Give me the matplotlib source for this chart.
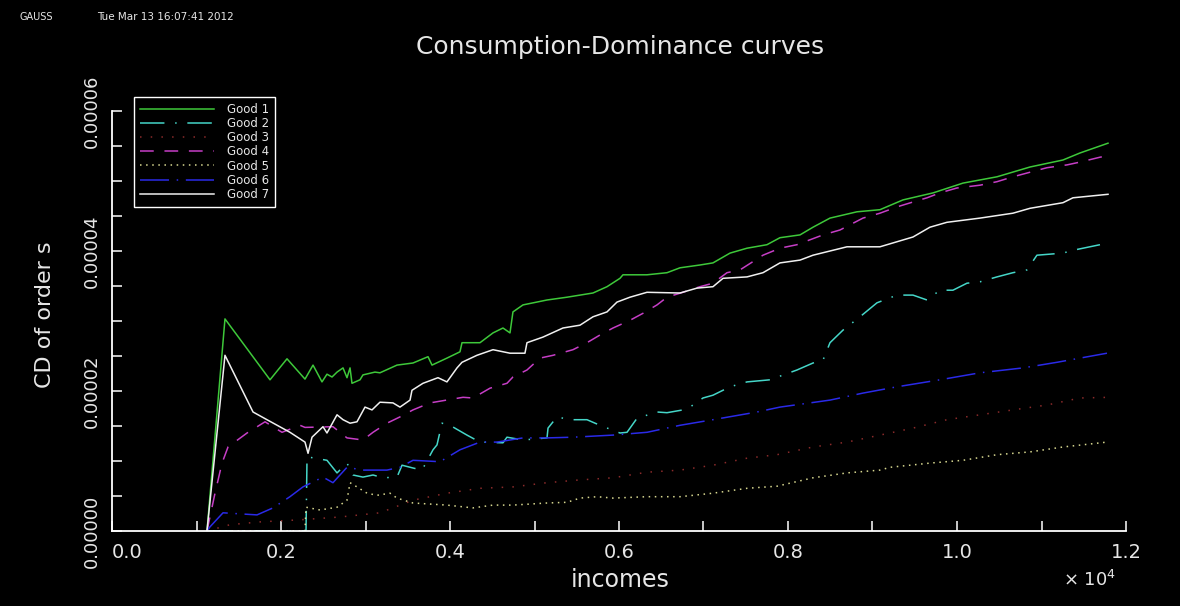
import matplotlib
matplotlib.use("Agg")
import matplotlib.pyplot as plt
from matplotlib.ticker import FixedLocator

# ---------------- data (incomes, CD values in units of 1e-5) ----------------
labels = ["Good 1", "Good 2", "Good 3", "Good 4", "Good 5", "Good 6", "Good 7"]

g1_x = [1124, 1337, 1870, 2071, 2284, 2379, 2485, 2544, 2604, 2663, 2734, 2781, 2817, 2840,
        2935, 2970, 3112, 3171, 3373, 3562, 3740, 3787, 3964, 4118, 4142, 4355, 4509, 4627,
        4710, 4745, 4864, 5148, 5385, 5692, 5858, 6012, 6047, 6331, 6568, 6722, 6958, 7112,
        7314, 7515, 7751, 7905, 8142, 8296, 8497, 8816, 9088, 9361, 9716, 10071, 10473,
        10864, 11254, 11455, 11787]
g1_y = [0, 3.03, 2.16, 2.46, 2.17, 2.37, 2.13, 2.24, 2.20, 2.27, 2.33, 2.19, 2.33, 2.11,
        2.16, 2.23, 2.27, 2.26, 2.37, 2.40, 2.49, 2.37, 2.47, 2.56, 2.69, 2.69, 2.83, 2.90,
        2.83, 3.13, 3.23, 3.30, 3.34, 3.40, 3.49, 3.61, 3.66, 3.66, 3.69, 3.76, 3.80, 3.83,
        3.97, 4.04, 4.09, 4.19, 4.23, 4.34, 4.47, 4.56, 4.59, 4.73, 4.83, 4.97, 5.06,
        5.20, 5.30, 5.40, 5.54]

g2_x = [1124, 2296, 2308, 2544, 2663, 2781, 2852, 2970, 3089, 3207,
        3373, 3432, 3562, 3669, 3799, 3846, 3905, 4000, 4201, 4355,
        4627, 4674, 4864, 5148, 5160, 5266, 5420, 5621, 5775, 6012,
        6095, 6213, 6450, 6568, 6757, 6840, 6994, 7112, 7314, 7515,
        7787, 8106, 8296, 8414, 8497, 8651, 8852, 9053, 9290, 9479,
        9645, 9798, 9952, 10118, 10272, 10473, 10662, 10828, 10946, 11254,
        11372, 11692]
g2_y = [0, 0, 1.06, 1.01, 0.83, 0.97, 0.80, 0.77, 0.80, 0.76,
        0.77, 0.94, 0.90, 0.87, 1.16, 1.23, 1.54, 1.51, 1.37, 1.27,
        1.26, 1.34, 1.30, 1.33, 1.47, 1.63, 1.59, 1.59, 1.51, 1.40,
        1.41, 1.61, 1.70, 1.69, 1.73, 1.77, 1.90, 1.94, 2.06, 2.13,
        2.16, 2.30, 2.40, 2.44, 2.69, 2.87, 3.06, 3.26, 3.37, 3.37,
        3.30, 3.44, 3.44, 3.54, 3.56, 3.63, 3.69, 3.73, 3.94, 3.97,
        4.01, 4.09]

g3_x = [1124, 1396, 1751, 2225, 2698, 3171, 3562, 3964, 4355, 4745,
        5148, 5538, 5929, 6331, 6722, 7112, 7515, 7870, 8296, 8698,
        9088, 9479, 9881, 10272, 10662, 11065, 11455, 11811]
g3_y = [0, 0.09, 0.13, 0.16, 0.20, 0.26, 0.44, 0.54, 0.61, 0.63,
        0.69, 0.73, 0.76, 0.84, 0.87, 0.94, 1.04, 1.09, 1.20, 1.27,
        1.37, 1.47, 1.59, 1.66, 1.73, 1.80, 1.90, 1.91]

g4_x = [1124, 1219, 1302, 1373, 1598, 1811, 2012, 2225, 2284, 2615,
        2781, 2970, 3089, 3254, 3408, 3562, 3763, 4154, 4272, 4473,
        4674, 4745, 4911, 5065, 5219, 5455, 5621, 5775, 5929, 6130,
        6284, 6450, 6568, 6757, 6958, 7112, 7278, 7432, 7704, 7905,
        8106, 8414, 8615, 8887, 9088, 9290, 9479, 9645, 9798, 9999,
        10272, 10473, 10662, 11065, 11301, 11455, 11692, 11787]
g4_y = [0, 0.54, 0.97, 1.20, 1.40, 1.56, 1.41, 1.51, 1.48, 1.49,
        1.33, 1.30, 1.41, 1.54, 1.63, 1.73, 1.83, 1.91, 1.90, 2.04,
        2.11, 2.20, 2.30, 2.47, 2.51, 2.59, 2.69, 2.80, 2.90, 3.01,
        3.11, 3.23, 3.34, 3.41, 3.49, 3.54, 3.69, 3.73, 3.94, 4.04,
        4.09, 4.23, 4.30, 4.47, 4.54, 4.63, 4.70, 4.76, 4.83, 4.90,
        4.94, 4.99, 5.06, 5.19, 5.23, 5.27, 5.34, 5.36]

g5_x = [1124, 2284, 2296, 2461, 2663, 2781, 2817, 2899, 3018, 3136,
        3290, 3373, 3562, 3964, 4272, 4509, 4745, 5148, 5385, 5538,
        5740, 5929, 6331, 6722, 7112, 7515, 7870, 8296, 8698, 9088,
        9207, 9680, 10071, 10473, 10864, 11254, 11775]
g5_y = [0, 0, 0.34, 0.30, 0.34, 0.44, 0.69, 0.63, 0.54, 0.51,
        0.54, 0.47, 0.40, 0.37, 0.33, 0.37, 0.37, 0.40, 0.41, 0.47,
        0.49, 0.47, 0.49, 0.49, 0.54, 0.61, 0.64, 0.76, 0.83, 0.87,
        0.91, 0.97, 1.01, 1.09, 1.13, 1.20, 1.27]

g6_x = [1124, 1160, 1314, 1716, 1905, 2106, 2260, 2497, 2615, 2781,
        2970, 3254, 3408, 3562, 3882, 4118, 4355, 4556, 4864, 5148,
        5455, 5929, 6331, 6722, 7112, 7633, 7905, 8497, 8887, 9290,
        9798, 10272, 10781, 11183, 11775]
g6_y = [0, 0.06, 0.26, 0.23, 0.33, 0.49, 0.63, 0.77, 0.69, 0.91,
        0.87, 0.87, 0.91, 1.01, 0.99, 1.16, 1.27, 1.27, 1.33, 1.33,
        1.34, 1.37, 1.41, 1.51, 1.59, 1.70, 1.77, 1.87, 1.97, 2.06,
        2.16, 2.26, 2.33, 2.41, 2.54]

g7_x = [1124, 1337, 1669, 1834, 2106, 2284, 2320, 2367, 2497, 2544,
        2663, 2734, 2817, 2899, 2994, 3077, 3171, 3325, 3408, 3527,
        3550, 3680, 3858, 3964, 4083, 4142, 4319, 4509, 4710, 4887,
        4911, 5100, 5337, 5538, 5692, 5858, 5976, 6130, 6331, 6722,
        6923, 7112, 7231, 7515, 7704, 7905, 8142, 8296, 8698, 9088,
        9479, 9680, 9881, 10272, 10662, 10864, 11254, 11372, 11787]
g7_y = [0, 2.51, 1.70, 1.59, 1.41, 1.27, 1.11, 1.34, 1.49, 1.40,
        1.66, 1.59, 1.54, 1.56, 1.77, 1.73, 1.84, 1.83, 1.77, 1.87,
        2.01, 2.11, 2.19, 2.13, 2.33, 2.41, 2.51, 2.59, 2.54, 2.54,
        2.69, 2.77, 2.90, 2.94, 3.06, 3.13, 3.27, 3.34, 3.41, 3.40,
        3.47, 3.49, 3.61, 3.63, 3.69, 3.83, 3.87, 3.94, 4.06, 4.06,
        4.20, 4.34, 4.41, 4.47, 4.54, 4.61, 4.69, 4.76, 4.81]

series_x = [g1_x, g2_x, g3_x, g4_x, g5_x, g6_x, g7_x]
series_y = [g1_y, g2_y, g3_y, g4_y, g5_y, g6_y, g7_y]
y_unit = 1e-5

x_tick_vals = [0, 2000, 4000, 6000, 8000, 10000, 12000]
x_tick_labels = ["0.0", "0.2", "0.4", "0.6", "0.8", "1.0", "1.2"]
y_tick_vals = [0, 2e-5, 4e-5, 6e-5]
y_tick_labels = ["0.00000", "0.00002", "0.00004", "0.00006"]

# ---------------- styles ----------------
colors = ["#3ec83a", "#45d6c8", "#8a2a2a", "#c63ec6", "#d8d890", "#2a2ae8", "#f0f0f0"]
styles = ["-", (0, (16, 7, 1, 7)), (0, (1, 6)), (0, (9, 7)), (0, (1, 3)),
          (0, (19, 5, 1, 5)), "-"]
txt_col = "#e6e6e6"

fig = plt.figure(figsize=(11.8, 6.06), dpi=100, facecolor="black")
ax = fig.add_axes([112 / 1180, 75 / 606, 1014 / 1180, 420 / 606], facecolor="black")

for xs, ys, c, ls, lab in zip(series_x, series_y, colors, styles, labels):
    ax.plot(xs, [v * y_unit for v in ys], color=c, linestyle=ls, linewidth=1.1, label=lab)

ax.set_xlim(0, 12000)
ax.set_ylim(0, 6e-5)

for s in ["top", "right"]:
    ax.spines[s].set_visible(False)
for s in ["left", "bottom"]:
    ax.spines[s].set_color("white")
    ax.spines[s].set_linewidth(1.3)

ax.xaxis.set_major_locator(FixedLocator(x_tick_vals))
ax.set_xticklabels(x_tick_labels)
ax.xaxis.set_minor_locator(FixedLocator([1000, 3000, 5000, 7000, 9000, 11000]))
ax.yaxis.set_major_locator(FixedLocator(y_tick_vals))
ax.set_yticklabels(y_tick_labels)
ax.yaxis.set_minor_locator(FixedLocator([5e-6, 1e-5, 1.5e-5, 2.5e-5, 3e-5, 3.5e-5,
                                         4.5e-5, 5e-5, 5.5e-5]))
ax.tick_params(which="both", direction="in", color="white", length=7, width=1.1,
               labelcolor=txt_col)
ax.tick_params(axis="x", which="major", labelsize=14, pad=9)
ax.tick_params(axis="y", which="major", labelsize=13, pad=8)
for t in ax.get_yticklabels():
    t.set_rotation(90)
    t.set_va("center")
ax.get_xticklabels()[0].set_ha("left")

# texts
fig.text(20 / 1180, 1 - 17 / 606, "GAUSS", color=txt_col, fontsize=7, va="center", ha="left")
fig.text(97 / 1180, 1 - 17 / 606, "Tue Mar 13 16:07:41 2012", color=txt_col, fontsize=7.5,
         va="center", ha="left")
fig.text(620 / 1180, 1 - 47 / 606, "Consumption-Dominance curves", color=txt_col,
         fontsize=18, va="center", ha="center")
fig.text(45 / 1180, 1 - 315 / 606, "CD of order s", color=txt_col, fontsize=16,
         rotation=90, va="center", ha="center")
fig.text(620 / 1180, 1 - 580 / 606, "incomes", color=txt_col, fontsize=17,
         va="center", ha="center")
fig.text(1090 / 1180, 1 - 580 / 606, r"× 10$^{4}$", color=txt_col, fontsize=13,
         va="center", ha="center")

leg = ax.legend(loc="upper left", bbox_to_anchor=(134 / 1180, 1 - 97 / 606),
                bbox_transform=fig.transFigure, frameon=True, fancybox=False,
                facecolor="black", edgecolor="white", fontsize=8.5,
                handlelength=6.3, handletextpad=1.1, labelspacing=0.1,
                borderpad=0.5, borderaxespad=0.0, framealpha=1)
leg.get_frame().set_linewidth(1.0)
for t in leg.get_texts():
    t.set_color(txt_col)

fig.savefig("out.png", dpi=100, facecolor="black")
